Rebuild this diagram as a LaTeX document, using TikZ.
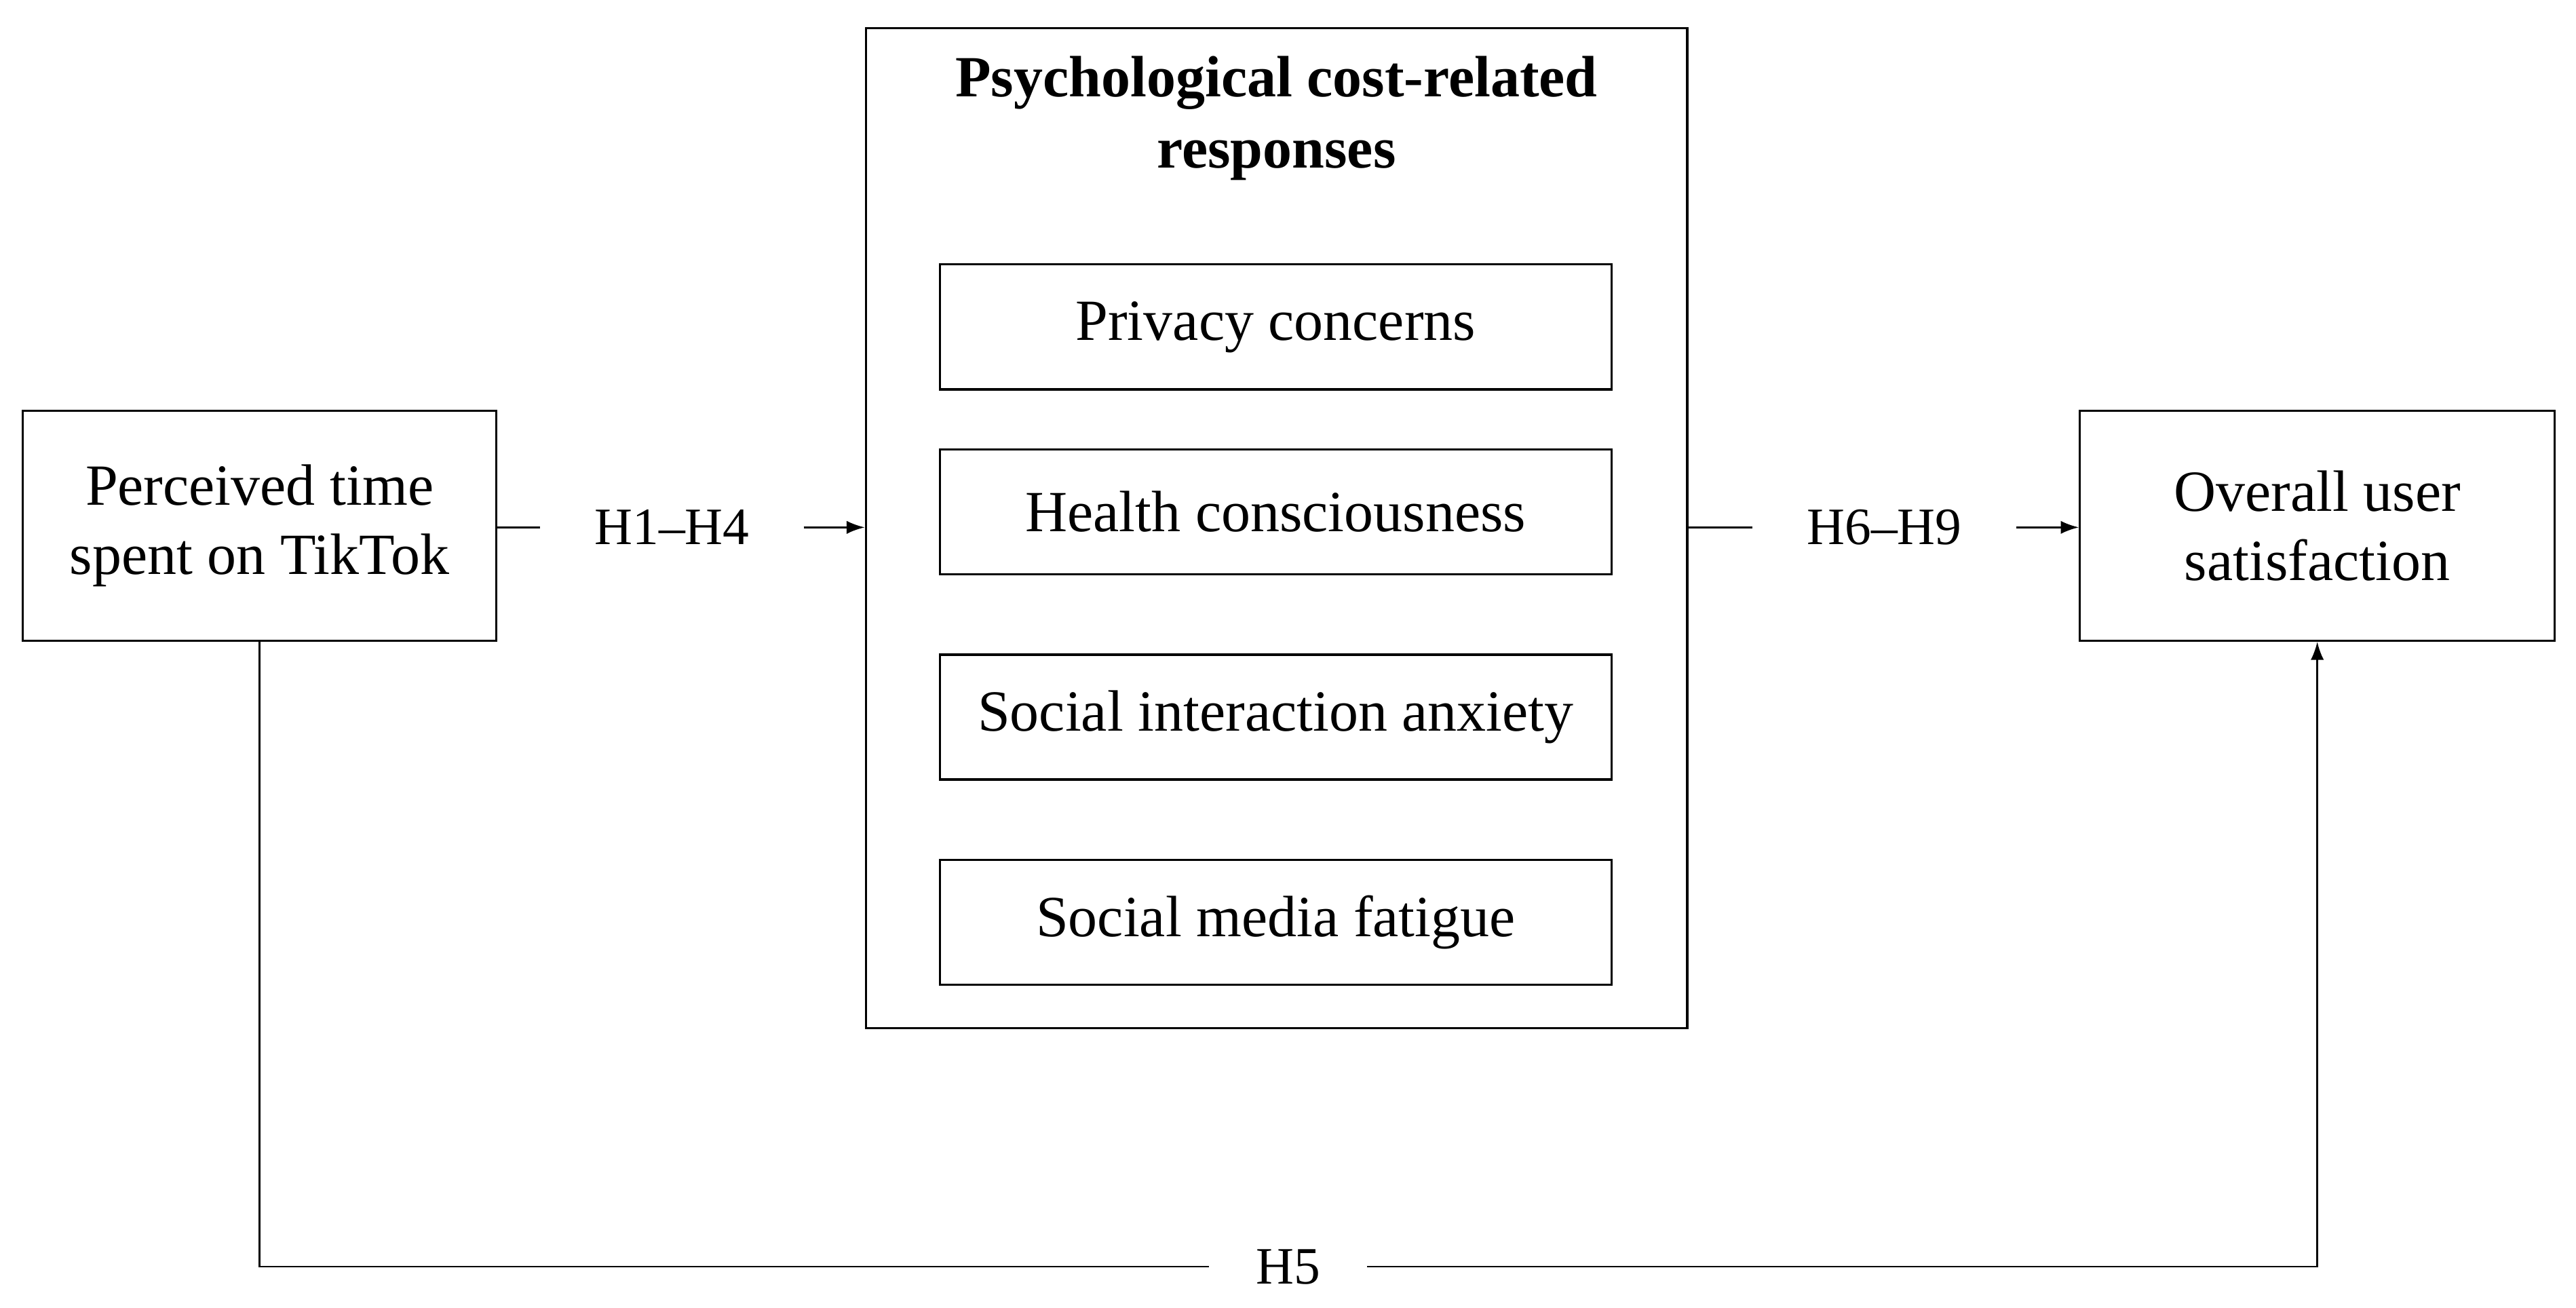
\documentclass[tikz,border=0pt]{standalone}
\usepackage{fontspec}
\setmainfont{Liberation Serif}
\usetikzlibrary{arrows.meta}
\begin{document}
\begin{tikzpicture}[x=1pt,y=-1pt,
  box/.style={draw,line width=1.3pt,inner sep=0pt,align=center,font=\fontsize{35.5}{42}\selectfont},
  lbl/.style={inner sep=2pt,font=\fontsize{32}{36}\selectfont},
  ln/.style={line width=1.1pt},
  arr/.style={line width=1.1pt,-{Latex[length=11pt,width=8pt]}}]
\useasboundingbox (0,0) rectangle (1568,796);
\node[box,minimum width=288pt,minimum height=140pt] (left) at (158,320) {Perceived time\\spent on TikTok};
\node[box,minimum width=500pt,minimum height=609pt] (big) at (777,321.5) {};
\node[font=\fontsize{35.5}{43}\selectfont\bfseries,align=center] (title) at (777,72) {Psychological cost-related\\responses};
\node[box,minimum width=409pt,minimum height=76pt] (p1) at (776.5,199) {Privacy concerns};
\node[box,minimum width=409pt,minimum height=76pt] (p2) at (776.5,311.5) {Health consciousness};
\node[box,minimum width=409pt,minimum height=76pt] (p3) at (776.5,436.5) {Social interaction anxiety};
\node[box,minimum width=409pt,minimum height=76pt] (p4) at (776.5,561.5) {Social media fatigue};
\node[box,minimum width=289pt,minimum height=140pt] (right) at (1410.5,320) {Overall user\\satisfaction};
\node[lbl,minimum width=160pt] (h14) at (409,321) {H1--H4};
\node[lbl,minimum width=160pt] (h69) at (1147,321) {H6--H9};
\node[lbl,minimum width=96pt] (h5) at (784,771) {H5};
\draw[ln] (left.east |- h14) -- (h14.west);
\draw[arr] (h14.east) -- (h14 -| big.west);
\draw[ln] (big.east |- h69) -- (h69.west);
\draw[arr] (h69.east) -- (h69 -| right.west);
\draw[ln] (left.south) |- (h5.west);
\draw[arr] (h5.east) -| (right.south);
\end{tikzpicture}
\end{document}
